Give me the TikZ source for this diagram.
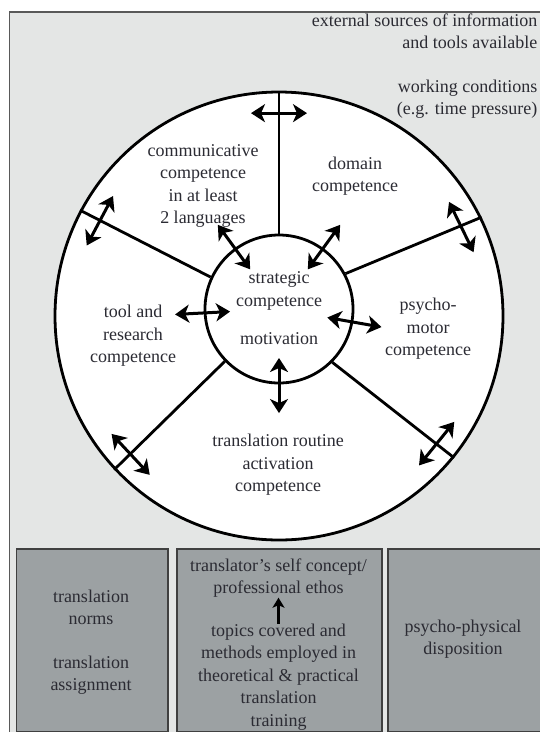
\documentclass[tikz,border=0pt]{standalone}
\usepackage{fontspec}
\setmainfont{Liberation Serif}
\usetikzlibrary{arrows.meta,calc,positioning}

\definecolor{framegrey}{HTML}{E4E6E5}
\definecolor{boxgrey}{HTML}{9CA1A3}
\definecolor{inkgrey}{HTML}{2B2B33}

\tikzstyle{txt} = [align=center, text=inkgrey, font=\fontsize{18}{22.5}\selectfont, inner sep=0pt]
\tikzstyle{sidetxt} = [txt, align=right, anchor=east]
\tikzstyle{ring} = [circle, draw=black, line width=2.8pt, inner sep=0pt, fill=white]
\tikzstyle{spoke} = [line width=2.8pt]
\tikzstyle{dbl} = [line width=3pt, {Stealth[length=14pt,width=18pt,inset=4pt]}-{Stealth[length=14pt,width=18pt,inset=4pt]}]
\tikzstyle{uparrow} = [line width=2.8pt, -{Stealth[length=10pt,width=12pt,inset=2.5pt]}]
\tikzstyle{factor} = [rectangle, draw=black!75, line width=1.5pt, fill=boxgrey, anchor=north west, minimum height=183pt]

\begin{document}
\begin{tikzpicture}[x=1pt, y=-1pt]
    \useasboundingbox (0,0) rectangle (539,732);
    \draw [fill=framegrey, draw=black!65, line width=1.5pt] (9.5,12) rectangle (560,760);

    \node (outer) [ring, minimum size=448pt] at (279,316) {};
    \node (inner) [ring, minimum size=148pt] at (279,309) {};

    \draw [spoke] (inner.90) -- (outer.90);
    \draw [spoke] (inner.155) -- (outer.152);
    \draw [spoke] (inner.28) -- (outer.26);
    \draw [spoke] (inner.-136) -- (outer.-137);
    \draw [spoke] (inner.-45) -- (outer.-39);

    % arrows across the outer ring
    \foreach \a/\n in {90/top, 152/upleft, 26/upright, -137/lowleft, -39/lowright} {
        \coordinate (o\n) at ($(outer.center)!0.9!(outer.\a)$);
        \draw [dbl] ($(o\n)!28pt!90:(outer.center)$) -- ($(o\n)!28pt!-90:(outer.center)$);
    }
    % arrows across the inner ring
    \foreach \a in {126, 54, 183, -10, -90}
        \draw [dbl] ($(inner.center)!0.65!(inner.\a)$) -- ($(inner.center)!1.38!(inner.\a)$);

    \node (sources) [sidetxt] at (537.5,31) {external sources of information\\and tools available};
    \node (conditions) [sidetxt] at (537.5,99) {working conditions\\(e.g. time pressure)};

    \node (communicative) [txt] at (203,186) {communicative\\competence\\in at least\\2 languages};
    \node (domain) [txt] at (355,176) {domain\\competence};
    \node (strategic) [txt] at (279,291) {strategic\\competence};
    \node (motivation) [txt] at (279,339) {motivation};
    \node (tool) [txt] at (133,336) {tool and\\research\\competence};
    \node (psycho) [txt] at (428,329) {psycho-\\motor\\competence};
    \node (routine) [txt] at (278,465) {translation routine\\activation\\competence};

    \node (normsbox) [factor, minimum width=151.5pt] at (15.5,548) {};
    \node (trainingbox) [factor, minimum width=205pt] at (176,548) {};
    \node (physicalbox) [factor, minimum width=160pt] at (387,548) {};

    \node (norms) [txt] at (91,607.5) {translation\\norms};
    \node (assignment) [txt] at (91,675) {translation\\assignment};
    \node (ethos) [txt] at (278.5,578) {translator's self concept/\\professional ethos};
    \node (topics) [txt, below=26pt of ethos] {topics covered and\\methods employed in\\theoretical \& practical\\translation\\training};
    \node (disposition) [txt] at (463,639) {psycho-physical\\disposition};

    \draw [uparrow] (topics) -- (ethos);
\end{tikzpicture}
\end{document}
